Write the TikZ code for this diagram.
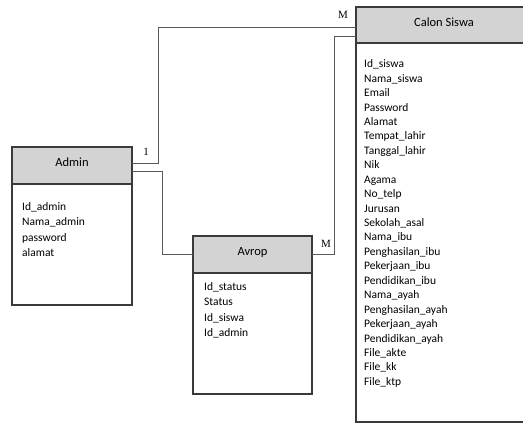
\documentclass[tikz,border=0pt]{standalone}
\usepackage{fontspec}
\setmainfont{Carlito}
\newfontfamily\relfont{Liberation Serif}
\usetikzlibrary{calc}
\definecolor{boxline}{HTML}{3A3A3A}
\definecolor{connline}{HTML}{5A5A5A}
\definecolor{hdrgray}{HTML}{D3D3D3}
\begin{document}
\begin{tikzpicture}[x=1pt,y=-1pt,
  box/.style={draw=boxline, line width=1.1pt, inner sep=0pt, outer sep=0pt, anchor=north west},
  hdr/.style={box, fill=hdrgray},
  title/.style={inner sep=0pt, font=\fontsize{12.5}{15}\selectfont},
  attrs/.style={anchor=north west, inner sep=0pt, align=left},
  conn/.style={draw=connline, line width=0.9pt},
  card/.style={inner sep=0pt, font=\relfont\fontsize{11}{13}\selectfont}]
\useasboundingbox (0,0) rectangle (523,423);
\clip (0,0) rectangle (523,423);

% Admin entity
\node[hdr, minimum width=120pt, minimum height=37pt] (adminh) at (12,147) {};
\node[box, minimum width=120pt, minimum height=121pt] (adminb) at (12,184) {};
\node[title] (admint) at ($(adminh.center)+(0,-3)$) {Admin};
\node[attrs, font=\fontsize{11.5}{15.5}\selectfont] (admina) at (22,202)
  {Id\_admin\\Nama\_admin\\password\\alamat};

% Calon Siswa entity
\node[hdr, minimum width=176pt, minimum height=36pt] (calonh) at (356,7) {};
\node[box, minimum width=176pt, minimum height=379pt] (calonb) at (356,43) {};
\node[title] (calont) at ($(calonh.center)+(0,-3)$) {Calon Siswa};
\node[attrs, font=\fontsize{11.5}{14.44}\selectfont] (calona) at (364,59.5)
  {Id\_siswa\\Nama\_siswa\\Email\\Password\\Alamat\\Tempat\_lahir\\Tanggal\_lahir\\Nik\\Agama\\No\_telp\\Jurusan\\Sekolah\_asal\\Nama\_ibu\\Penghasilan\_ibu\\Pekerjaan\_ibu\\Pendidikan\_ibu\\Nama\_ayah\\Penghasilan\_ayah\\Pekerjaan\_ayah\\Pendidikan\_ayah\\File\_akte\\File\_kk\\File\_ktp};

% Avrop entity
\node[hdr, minimum width=119pt, minimum height=37pt] (avroph) at (193,236) {};
\node[box, minimum width=119pt, minimum height=121pt] (avropb) at (193,273) {};
\node[title] (avropt) at ($(avroph.center)+(0,-2.5)$) {Avrop};
\node[attrs, font=\fontsize{11.5}{15.2}\selectfont] (avropa) at (204,282.5)
  {Id\_status\\Status\\Id\_siswa\\Id\_admin};

% Relationships
\coordinate (b1) at (158,27);
\coordinate (b2) at (162,254);
\coordinate (b3) at (334,36);
\draw[conn] ([yshift=2.5pt]adminh.east) -| (b1) -- (b1 -| calonh.west);
\draw[conn] ([yshift=-5.5pt]adminh.east) -| (b2) -- (b2 -| avroph.west);
\draw[conn] (avroph.east) -| (b3) -- (b3 -| calonh.west);

% Cardinalities
\node[card] (c1) at (146,152) {1};
\node[card] (c2) at (343,15) {M};
\node[card] (c3) at (326,244) {M};
\end{tikzpicture}
\end{document}
